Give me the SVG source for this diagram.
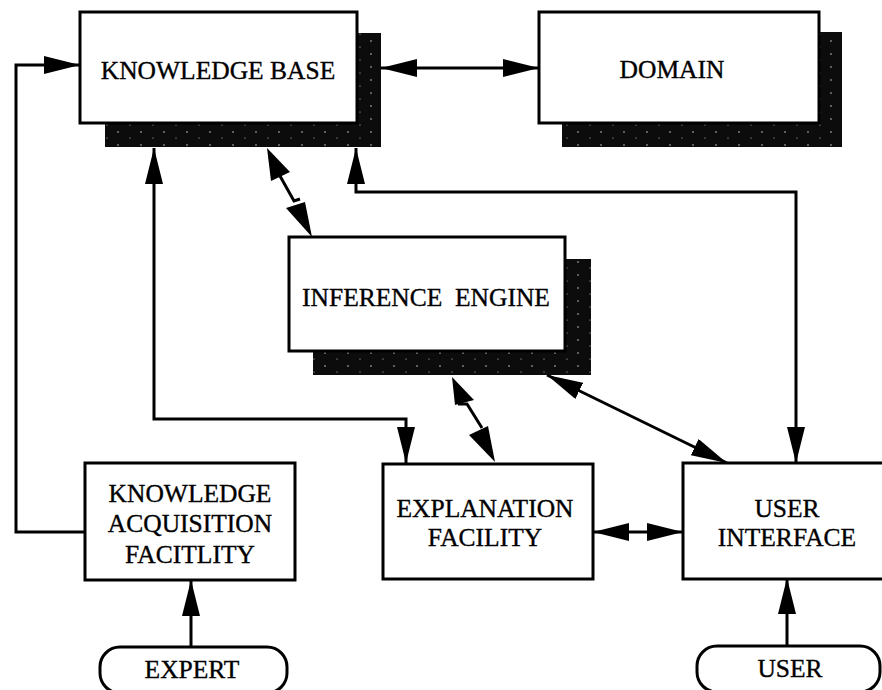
<svg xmlns="http://www.w3.org/2000/svg" width="882" height="690" viewBox="0 0 882 690">
<style>
.box{fill:#fff;stroke:#000;stroke-width:3}
.shadow{fill:url(#spk)}
.lbl{font-family:"Liberation Serif","Times New Roman",serif;font-size:25.5px;fill:#000;stroke:#000;stroke-width:0.35;text-anchor:middle}
.ln{fill:none;stroke:#000;stroke-width:3}
.arr{fill:none;stroke:#000;stroke-width:3;marker-end:url(#ah)}
.arr2{fill:none;stroke:#000;stroke-width:3;marker-start:url(#ah);marker-end:url(#ah)}
.hd{fill:#000}
</style>
<defs>
<marker id="ah" markerUnits="userSpaceOnUse" viewBox="0 0 36 18" refX="36" refY="9" markerWidth="36" markerHeight="18" orient="auto-start-reverse">
<path d="M0,0 L36,9 L0,18 Z" fill="#000"/>
</marker>
<pattern id="spk" width="23" height="13" patternUnits="userSpaceOnUse">
<rect width="23" height="13" fill="#0c0c0c"/>
<circle cx="3" cy="2" r="0.7" fill="#eee"/>
<circle cx="15" cy="8" r="0.6" fill="#ccc"/>
</pattern>
</defs>
<rect width="882" height="690" fill="#fff"/>

<g id="connectors">
<polyline class="arr" points="85,532 16,532 16,65 80,65"/>
<line class="arr2" x1="381" y1="68" x2="539" y2="68"/>
<polyline class="arr2" points="356,148 356,192 796,192 796,463"/>
<polyline class="arr2" points="154,148 154,419 406,419 406,463"/>
<line class="arr2" x1="547" y1="375" x2="727" y2="463"/>
<line class="arr2" x1="593" y1="532" x2="683" y2="532"/>
<line class="arr" x1="191" y1="647" x2="191" y2="580"/>
<line class="arr" x1="787" y1="646" x2="787" y2="578"/>
<polygon class="hd" points="267,148 271,181 290,172"/>
<polyline class="ln" points="280,176 294,201 300,199"/>
<polygon class="hd" points="286,208 305,202 312,237"/>
<polygon class="hd" points="452,377 455,405 474,400"/>
<polyline class="ln" points="458,404 467,404 482,428"/>
<polygon class="hd" points="469,435 488,426 495,462"/>
</g>

<g id="knowledge-base">
<rect class="shadow" x="105" y="33" width="276" height="114"/>
<rect class="box" x="80" y="12" width="277" height="111"/>
<text class="lbl" x="218" y="79">KNOWLEDGE BASE</text>
</g>

<g id="domain">
<rect class="shadow" x="562" y="32" width="280" height="115"/>
<rect class="box" x="539" y="12" width="280" height="111"/>
<text class="lbl" x="672" y="78">DOMAIN</text>
</g>

<g id="inference-engine">
<rect class="shadow" x="313" y="259" width="278" height="116"/>
<rect class="box" x="289" y="237" width="276" height="114"/>
<text class="lbl" x="426" y="306" xml:space="preserve">INFERENCE  ENGINE</text>
</g>

<g id="knowledge-acquisition">
<rect class="box" x="85" y="463" width="210" height="117"/>
<text class="lbl" x="190" y="502">KNOWLEDGE</text>
<text class="lbl" x="190" y="532">ACQUISITION</text>
<text class="lbl" x="190" y="563">FACITLITY</text>
</g>

<g id="explanation-facility">
<rect class="box" x="383" y="464" width="210" height="115"/>
<text class="lbl" x="485" y="517">EXPLANATION</text>
<text class="lbl" x="485" y="546">FACILITY</text>
</g>

<g id="user-interface">
<rect class="box" x="683" y="463" width="215" height="116"/>
<text class="lbl" x="787" y="517">USER</text>
<text class="lbl" x="787" y="546">INTERFACE</text>
</g>

<g id="expert">
<rect class="box" x="100" y="647" width="187" height="46" rx="20" ry="20"/>
<text class="lbl" x="192" y="678">EXPERT</text>
</g>

<g id="user">
<rect class="box" x="697" y="646" width="183" height="46" rx="20" ry="20"/>
<text class="lbl" x="790" y="677">USER</text>
</g>
</svg>
